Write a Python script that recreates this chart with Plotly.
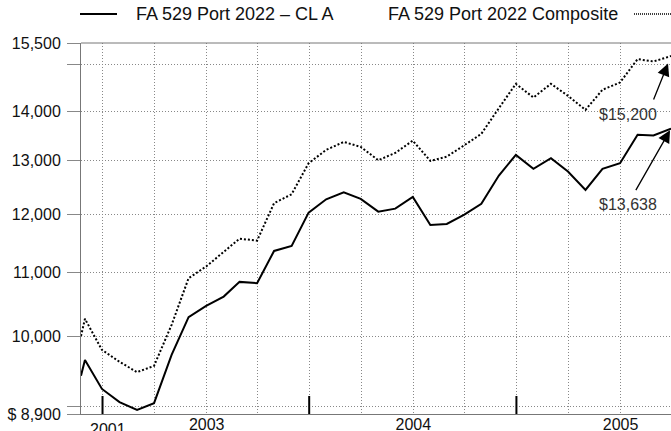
import math
import plotly.graph_objects as go

# ---------------- data ----------------
dates = [
    "2002-05-24", "2002-05-31", "2002-06-30", "2002-07-31", "2002-08-31", "2002-09-30",
    "2002-10-31", "2002-11-30", "2002-12-31",
    "2003-01-31", "2003-02-28", "2003-03-31", "2003-04-30", "2003-05-31", "2003-06-30",
    "2003-07-31", "2003-08-31", "2003-09-30", "2003-10-31", "2003-11-30", "2003-12-31",
    "2004-01-31", "2004-02-29", "2004-03-31", "2004-04-30", "2004-05-31", "2004-06-30",
    "2004-07-31", "2004-08-31", "2004-09-30", "2004-10-31", "2004-11-30", "2004-12-31",
    "2005-01-31", "2005-02-28", "2005-03-31",
]
class_a = [
    9425, 9647, 9240, 9059, 8956, 9046, 9723, 10287, 10462,
    10608, 10844, 10823, 11358, 11444, 12027, 12270, 12399, 12276, 12045, 12099, 12312,
    11808, 11825, 11990, 12186, 12713, 13112, 12840, 13048, 12789, 12442, 12840, 12950,
    13511, 13497, 13638,
]
composite = [
    10000, 10261, 9796, 9622, 9475, 9564, 10169, 10904, 11096,
    11341, 11568, 11534, 12199, 12362, 12950, 13210, 13369, 13270, 13008, 13150, 13395,
    12994, 13078, 13303, 13531, 14061, 14582, 14287, 14582, 14323, 14025, 14453, 14611,
    15131, 15077, 15200,
]
series_names = ["FA 529 Port 2022 \u2013 CL A", "FA 529 Port 2022 Composite"]
end_labels = ["$13,638", "$15,200"]

y_tickvals = [8900, 9000, 10000, 11000, 12000, 13000, 14000, 15000, 15500]
y_ticktext = ["$ 8,900", "", "10,000", "11,000", "12,000", "13,000", "14,000", "", "15,500"]
y_range = [8900, 15500]

x_grid_dates = ["2002-07-01", "2002-10-01", "2003-01-01", "2003-04-01", "2003-07-01",
                "2003-10-01", "2004-01-01", "2004-04-01", "2004-07-01", "2004-10-01",
                "2005-01-01"]
x_grid_text = ["", "", "2003", "", "", "", "2004", "", "", "", "2005"]
big_tick_dates = ["2002-07-01", "2003-07-01", "2004-07-01"]
odd_label = "2001"
x_range = ["2002-05-24", "2005-03-31"]

# ---------------- figure ----------------
W, H = 671, 431
ML, MR, MT, MB = 81, 0, 43, 17
PW, PH = W - ML - MR, H - MT - MB   # 590 x 371

def px_x(px):
    return (px - ML) / PW

def px_y(py):
    return (H - MB - py) / PH

FONT = "Liberation Sans, Arial, Helvetica, sans-serif"

fig = go.Figure()
fig.add_trace(go.Scatter(x=dates, y=composite, mode="lines", name=series_names[1],
                         line=dict(color="black", width=2, dash="2px,2px"),
                         showlegend=False, hoverinfo="skip"))
fig.add_trace(go.Scatter(x=dates, y=class_a, mode="lines", name=series_names[0],
                         line=dict(color="black", width=2),
                         showlegend=False, hoverinfo="skip"))

shapes = []
for d in big_tick_dates:
    shapes.append(dict(type="line", xref="x", yref="paper", x0=d, x1=d,
                       y0=0, y1=18 / PH, line=dict(color="black", width=2)))
shapes.append(dict(type="line", xref="paper", yref="paper", x0=0, x1=1, y0=1, y1=1,
                   line=dict(color="#777777", width=1)))
leg_y = px_y(14)
shapes.append(dict(type="line", xref="paper", yref="paper", x0=px_x(80), x1=px_x(117),
                   y0=leg_y, y1=leg_y, line=dict(color="black", width=2)))
shapes.append(dict(type="line", xref="paper", yref="paper", x0=px_x(634), x1=px_x(675),
                   y0=leg_y, y1=leg_y, line=dict(color="black", width=1.5, dash="1px,1px")))

annotations = [
    dict(xref="paper", yref="paper", x=px_x(134), y=leg_y, text=series_names[0],
         showarrow=False, xanchor="left", yanchor="middle",
         font=dict(family=FONT, size=18, color="#111111")),
    dict(xref="paper", yref="paper", x=px_x(386), y=leg_y, text=series_names[1],
         showarrow=False, xanchor="left", yanchor="middle",
         font=dict(family=FONT, size=18, color="#111111")),
    dict(xref="paper", yref="paper", x=px_x(628), y=px_y(114), text=end_labels[1],
         showarrow=False, xanchor="center", yanchor="middle",
         font=dict(family=FONT, size=16, color="#333333")),
    dict(xref="paper", yref="paper", x=px_x(628), y=px_y(205), text=end_labels[0],
         showarrow=False, xanchor="center", yanchor="middle",
         font=dict(family=FONT, size=16, color="#333333")),
    dict(xref="x", yref="y", x=dates[-1], y=math.log10(composite[-1]), text="",
         showarrow=True, ax=-18, ay=45, axref="pixel", ayref="pixel",
         arrowhead=2, arrowsize=1.9, arrowwidth=1.3, arrowcolor="black", standoff=8),
    dict(xref="x", yref="y", x=dates[-1], y=math.log10(class_a[-1]), text="",
         showarrow=True, ax=-36, ay=63, axref="pixel", ayref="pixel",
         arrowhead=2, arrowsize=1.9, arrowwidth=1.3, arrowcolor="black", standoff=2),
    dict(xref="x", yref="paper", x=big_tick_dates[0], y=px_y(429.5), text=odd_label,
         showarrow=False, xanchor="center", yanchor="middle", xshift=5,
         font=dict(family=FONT, size=16, color="#111111")),
]

fig.update_layout(
    width=W, height=H,
    margin=dict(l=ML, r=MR, t=MT, b=MB, pad=0, autoexpand=False),
    paper_bgcolor="white", plot_bgcolor="white",
    font=dict(family=FONT, size=16, color="#111111"),
    shapes=shapes, annotations=annotations,
    showlegend=False,
    xaxis=dict(
        type="date", range=x_range, automargin=False,
        tickmode="array", tickvals=x_grid_dates, ticktext=x_grid_text,
        ticks="", showgrid=True, gridcolor="#888888", gridwidth=1, griddash="1px,2px",
        showline=True, linecolor="#777777", linewidth=1,
        zeroline=False, ticklabelstandoff=-4,
        tickfont=dict(family=FONT, size=16, color="#111111"),
    ),
    yaxis=dict(
        type="log", range=[math.log10(y_range[0]), math.log10(y_range[1])], automargin=False,
        tickmode="array", tickvals=y_tickvals, ticktext=y_ticktext,
        ticks="outside", ticklen=13, tickcolor="#888888", tickwidth=1,
        showgrid=True, gridcolor="#888888", gridwidth=1, griddash="1px,2px",
        showline=True, linecolor="#777777", linewidth=1,
        zeroline=False, ticklabelstandoff=3,
        tickfont=dict(family=FONT, size=16, color="#111111"),
    ),
)

# remove the browser's default page margin so the figure fills the window exactly
fig.write_html(
    "out.html",
    config={"displayModeBar": False, "staticPlot": True},
    post_script="document.documentElement.style.margin='0';document.body.style.margin='0';"
                "document.body.style.overflow='hidden';",
)
